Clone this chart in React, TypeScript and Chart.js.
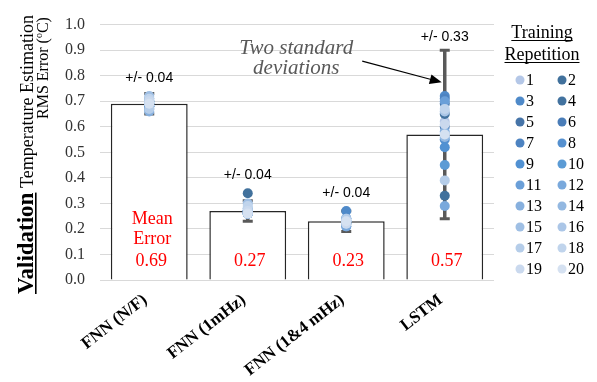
import React, { useEffect, useRef } from 'react';
import { Chart, registerables } from 'chart.js';

Chart.register(...registerables);

const categories = ['FNN (N/F)', 'FNN (1mHz)', 'FNN (1&4 mHz)', 'LSTM'];
const meanError = [0.69, 0.27, 0.23, 0.57];
const twoStd = [0.04, 0.04, 0.04, 0.33];

// Training repetitions 1..20, value per category
const repNF = [0.70, 0.69, 0.68, 0.70, 0.69, 0.67, 0.71, 0.68, 0.69, 0.70, 0.68, 0.69, 0.66, 0.70, 0.72, 0.69, 0.67, 0.71, 0.70, 0.69];
const rep1mHz = [0.27, 0.34, 0.27, 0.26, 0.27, 0.26, 0.27, 0.26, 0.27, 0.26, 0.27, 0.28, 0.26, 0.27, 0.30, 0.26, 0.28, 0.29, 0.27, 0.26];
const rep14mHz = [0.23, 0.22, 0.27, 0.23, 0.24, 0.22, 0.21, 0.23, 0.24, 0.22, 0.23, 0.21, 0.24, 0.23, 0.22, 0.23, 0.24, 0.23, 0.22, 0.23];
const repLSTM = [0.62, 0.33, 0.72, 0.65, 0.69, 0.60, 0.71, 0.55, 0.52, 0.45, 0.70, 0.29, 0.58, 0.56, 0.57, 0.66, 0.39, 0.67, 0.61, 0.57];

const repLabels = ['1', '2', '3', '4', '5', '6', '7', '8', '9', '10', '11', '12', '13', '14', '15', '16', '17', '18', '19', '20'];
const repColors = [
  '#b4c7e7', '#41719c', '#4f8ac9', '#42729f', '#4674a8',
  '#4a7db8', '#4d83c1', '#5590cf', '#5191d2', '#5b9bd5',
  '#6a9fd8', '#7aa9dc', '#87b0de', '#93b8e1', '#9fbfe4',
  '#abc6e7', '#b5cde9', '#c0d4ec', '#cad9ee', '#d5e1f1',
];

const yTickValues = [0, 0.1, 0.2, 0.3, 0.4, 0.5, 0.6, 0.7, 0.8, 0.9, 1.0];

const SERIF = '"Liberation Serif", "Times New Roman", serif';
const SANS = '"Liberation Sans", Arial, sans-serif';

const overlayPlugin = {
  id: 'overlay',
  afterDatasetDraw(chart: any, args: any) {
    if (args.index !== 0) return;
    const ctx = chart.ctx;
    const xs = chart.scales.x;
    const ys = chart.scales.y;
    ctx.save();
    ctx.strokeStyle = '#595959';
    for (let i = 0; i < categories.length; i++) {
      const x = xs.getPixelForValue(i);
      const yt = ys.getPixelForValue(meanError[i] + twoStd[i]);
      const yb = ys.getPixelForValue(meanError[i] - twoStd[i]);
      ctx.lineWidth = 3.5;
      ctx.beginPath();
      ctx.moveTo(x, yt);
      ctx.lineTo(x, yb);
      ctx.stroke();
      ctx.lineWidth = 3;
      ctx.beginPath();
      ctx.moveTo(x - 5, yt);
      ctx.lineTo(x + 5, yt);
      ctx.moveTo(x - 5, yb);
      ctx.lineTo(x + 5, yb);
      ctx.stroke();
    }
    ctx.restore();
  },
  afterDraw(chart: any) {
    const ctx = chart.ctx;
    const xs = chart.scales.x;
    const ys = chart.scales.y;
    const area = chart.chartArea;
    const reps = [repNF, rep1mHz, rep14mHz, repLSTM];
    ctx.save();

    // +/- labels
    ctx.fillStyle = '#000';
    ctx.font = `14px ${SANS}`;
    ctx.textAlign = 'center';
    ctx.textBaseline = 'middle';
    for (let i = 0; i < categories.length; i++) {
      const x = xs.getPixelForValue(i);
      const yt = ys.getPixelForValue(meanError[i] + twoStd[i]);
      const yp = ys.getPixelForValue(Math.max(...reps[i])) - 5;
      ctx.fillText('+/- ' + twoStd[i].toFixed(2), x, Math.min(yt, yp) - 13);
    }

    // mean error labels
    ctx.fillStyle = '#ff0000';
    ctx.font = `18px ${SERIF}`;
    for (let i = 0; i < categories.length; i++) {
      const x = xs.getPixelForValue(i);
      ctx.fillText(meanError[i].toFixed(2), x + 2, area.bottom - 19);
    }
    const x0 = xs.getPixelForValue(0);
    ctx.fillText('Mean', x0 + 3, area.bottom - 61);
    ctx.fillText('Error', x0 + 3, area.bottom - 41);

    // annotation
    const xl = xs.getPixelForValue(3);
    const x2 = xs.getPixelForValue(2);
    ctx.fillStyle = '#595959';
    ctx.font = `italic 21px ${SERIF}`;
    ctx.fillText('Two standard', x2 - 50, ys.getPixelForValue(0.905));
    ctx.fillText('deviations', x2 - 50, ys.getPixelForValue(0.83));
    const tx = xl - 3, ty = ys.getPixelForValue(0.774);
    const sx = x2 + 16, sy = ys.getPixelForValue(0.857);
    const ang = Math.atan2(ty - sy, tx - sx);
    ctx.strokeStyle = '#000';
    ctx.fillStyle = '#000';
    ctx.lineWidth = 1.2;
    ctx.beginPath();
    ctx.moveTo(sx, sy);
    ctx.lineTo(tx - 10 * Math.cos(ang), ty - 10 * Math.sin(ang));
    ctx.stroke();
    ctx.beginPath();
    ctx.moveTo(tx, ty);
    ctx.lineTo(tx - 12 * Math.cos(ang) + 5 * Math.sin(ang), ty - 12 * Math.sin(ang) - 5 * Math.cos(ang));
    ctx.lineTo(tx - 12 * Math.cos(ang) - 5 * Math.sin(ang), ty - 12 * Math.sin(ang) + 5 * Math.cos(ang));
    ctx.closePath();
    ctx.fill();

    // y title
    ctx.save();
    ctx.translate(33, 294);
    ctx.rotate(-Math.PI / 2);
    ctx.textAlign = 'left';
    ctx.textBaseline = 'alphabetic';
    ctx.fillStyle = '#000';
    ctx.font = `bold 23px ${SERIF}`;
    const vw = ctx.measureText('Validation').width;
    ctx.fillText('Validation', 0, 0);
    ctx.fillRect(0, 2, vw, 1.6);
    ctx.font = `18px ${SERIF}`;
    ctx.fillText(' Temperature Estimation', vw, 0);
    ctx.restore();
    ctx.save();
    ctx.translate(48, 119);
    ctx.rotate(-Math.PI / 2);
    ctx.textAlign = 'left';
    ctx.textBaseline = 'alphabetic';
    ctx.fillStyle = '#000';
    ctx.font = `16px ${SERIF}`;
    let w = 0;
    ctx.fillText('RMS Error (', 0, 0);
    w += ctx.measureText('RMS Error (').width;
    ctx.font = `10px ${SERIF}`;
    ctx.fillText('o', w, -6);
    w += ctx.measureText('o').width;
    ctx.font = `16px ${SERIF}`;
    ctx.fillText('C)', w, 0);
    ctx.restore();

    // legend
    const lx = 542;
    ctx.fillStyle = '#000';
    ctx.strokeStyle = '#000';
    ctx.font = `18px ${SERIF}`;
    ctx.textAlign = 'center';
    ctx.textBaseline = 'alphabetic';
    const titles = ['Training', 'Repetition'];
    const tys = [38, 60];
    for (let k = 0; k < 2; k++) {
      ctx.fillText(titles[k], lx, tys[k]);
      const tw = ctx.measureText(titles[k]).width;
      ctx.fillRect(lx - tw / 2, tys[k] + 2, tw, 1);
    }
    ctx.font = `16px ${SERIF}`;
    ctx.textAlign = 'left';
    ctx.textBaseline = 'middle';
    for (let i = 0; i < repLabels.length; i++) {
      const col = i % 2;
      const row = Math.floor(i / 2);
      const dx = col === 0 ? 520 : 562;
      const dy = 80 + row * 21;
      ctx.fillStyle = repColors[i];
      ctx.beginPath();
      ctx.arc(dx, dy, 4.5, 0, Math.PI * 2);
      ctx.fill();
      ctx.fillStyle = '#000';
      ctx.fillText(repLabels[i], dx + 6, dy + 1);
    }
    ctx.restore();
  },
};

export default function App() {
  const ref = useRef<HTMLCanvasElement | null>(null);
  useEffect(() => {
    if (!ref.current) return;
    const datasets: any[] = [
      {
        type: 'bar',
        data: meanError,
        backgroundColor: '#ffffff',
        borderColor: '#262626',
        borderWidth: 1.5,
        barPercentage: 0.78,
        categoryPercentage: 1,
        order: 100,
      },
    ];
    for (let i = 0; i < repLabels.length; i++) {
      datasets.push({
        type: 'line',
        label: repLabels[i],
        data: [repNF[i], rep1mHz[i], rep14mHz[i], repLSTM[i]],
        showLine: false,
        pointRadius: 5,
        pointBackgroundColor: repColors[i],
        pointBorderColor: repColors[i],
        pointBorderWidth: 0,
        order: 20 - i,
      });
    }
    const chart = new Chart(ref.current, {
      type: 'bar',
      data: { labels: categories, datasets },
      options: {
        animation: false,
        responsive: true,
        maintainAspectRatio: false,
        layout: { padding: { top: 15, right: 103, bottom: 0, left: 0 } },
        plugins: { legend: { display: false }, tooltip: { enabled: false } },
        scales: {
          x: {
            grid: { display: false },
            border: { display: false },
            ticks: {
              autoSkip: false,
              minRotation: 38,
              maxRotation: 38,
              padding: 2,
              labelOffset: -4,
              color: '#000',
              font: { family: SERIF, size: 17, weight: 'bold' },
            },
            afterFit: (s: any) => { s.height = 102; },
          },
          y: {
            min: 0,
            max: 1,
            afterBuildTicks: (s: any) => { s.ticks = yTickValues.map((v) => ({ value: v })); },
            ticks: {
              padding: 15,
              color: '#333',
              font: { family: SERIF, size: 16 },
              callback: (v: any) => Number(v).toFixed(1),
            },
            grid: { color: '#d9d9d9', drawTicks: false },
            border: { display: false },
            afterFit: (s: any) => { s.width = 100; },
          },
        },
      },
      plugins: [overlayPlugin],
    });
    return () => chart.destroy();
  }, []);
  return (
    <div style={{ position: 'fixed', left: 0, top: 0, width: 597, height: 382 }}>
      <canvas ref={ref} />
    </div>
  );
}
